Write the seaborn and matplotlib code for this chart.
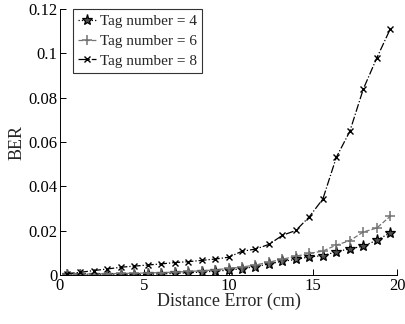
import numpy as np
import pandas as pd
import matplotlib
matplotlib.use('Agg')
import matplotlib.pyplot as plt
import seaborn as sns

# Distance error values (cm)
distance = [0.4, 1.2, 2.0, 2.8, 3.6, 4.4, 5.2, 6.0, 6.8, 7.6, 8.4, 9.2, 10.0,
            10.8, 11.6, 12.4, 13.2, 14.0, 14.8, 15.6, 16.4, 17.2, 18.0, 18.8, 19.6]

ber_tag4 = [0.0001, 0.0001, 0.0001, 0.0001, 0.0001, 0.0002, 0.0003, 0.0005, 0.0007,
            0.0010, 0.0013, 0.0017, 0.0022, 0.0028, 0.0038, 0.0050, 0.0062, 0.0070,
            0.0082, 0.0087, 0.0105, 0.0118, 0.0130, 0.0157, 0.0190]
ber_tag6 = [0.0003, 0.0004, 0.0005, 0.0006, 0.0007, 0.0008, 0.0009, 0.0011, 0.0013,
            0.0016, 0.0019, 0.0023, 0.0030, 0.0036, 0.0045, 0.0058, 0.0071, 0.0085,
            0.0097, 0.0108, 0.0135, 0.0155, 0.0194, 0.0212, 0.0265]
ber_tag8 = [0.0006, 0.0012, 0.0020, 0.0027, 0.0035, 0.0040, 0.0045, 0.0050, 0.0056,
            0.0060, 0.0066, 0.0072, 0.0080, 0.0107, 0.0117, 0.0138, 0.0179, 0.0201,
            0.0263, 0.0343, 0.0531, 0.0648, 0.0839, 0.0979, 0.1110]

labels = ['Tag number = 4', 'Tag number = 6', 'Tag number = 8']

df = pd.DataFrame({
    'Distance': distance * 3,
    'BER': ber_tag4 + ber_tag6 + ber_tag8,
    'Series': [labels[0]] * len(distance) + [labels[1]] * len(distance) + [labels[2]] * len(distance),
})

sns.set_style('ticks')
plt.rcParams['font.family'] = ['Liberation Serif', 'DejaVu Serif']

fig = plt.figure(figsize=(4.06, 3.24), dpi=100)
ax = fig.add_axes([60 / 406, 1 - 275 / 324, 337 / 406, 266 / 324])

styles = {
    labels[0]: dict(color='black', linestyle=':', marker='*', markersize=8,
                    markerfacecolor='0.3', markeredgecolor='black', markeredgewidth=0.9),
    labels[1]: dict(color='0.45', linestyle='--', marker='+', markersize=7,
                    markeredgecolor='0.45', markeredgewidth=1.1),
    labels[2]: dict(color='black', linestyle='-.', marker='x', markersize=5,
                    markeredgecolor='black', markeredgewidth=1.0),
}

for name in labels:
    sub = df[df['Series'] == name]
    sns.lineplot(data=sub, x='Distance', y='BER', ax=ax, label=name,
                 linewidth=0.9, **styles[name])

ax.set_xlim(0, 20)
ax.set_ylim(0, 0.12)
ax.set_xticks([0, 5, 10, 15, 20])
ax.set_yticks([0, 0.02, 0.04, 0.06, 0.08, 0.1, 0.12])
ax.set_yticklabels(['0', '0.02', '0.04', '0.06', '0.08', '0.1', '0.12'])
ax.tick_params(direction='in', length=4, width=0.7, labelsize=12, colors='black', pad=2)
ax.set_xlabel('Distance Error (cm)', fontsize=13, labelpad=-1)
ax.set_ylabel('BER', fontsize=13, labelpad=2)
sns.despine(ax=ax)
for s in ['left', 'bottom']:
    ax.spines[s].set_linewidth(0.7)
    ax.spines[s].set_color('black')

leg = ax.legend(loc='upper left', bbox_to_anchor=(0.038, 1.0), fontsize=11,
                frameon=True, fancybox=False, edgecolor='black', handlelength=1.2,
                handletextpad=0.2, borderpad=0.35, labelspacing=0.4, borderaxespad=0.0)
leg.get_frame().set_linewidth(0.8)

fig.savefig('out.png', dpi=100)
